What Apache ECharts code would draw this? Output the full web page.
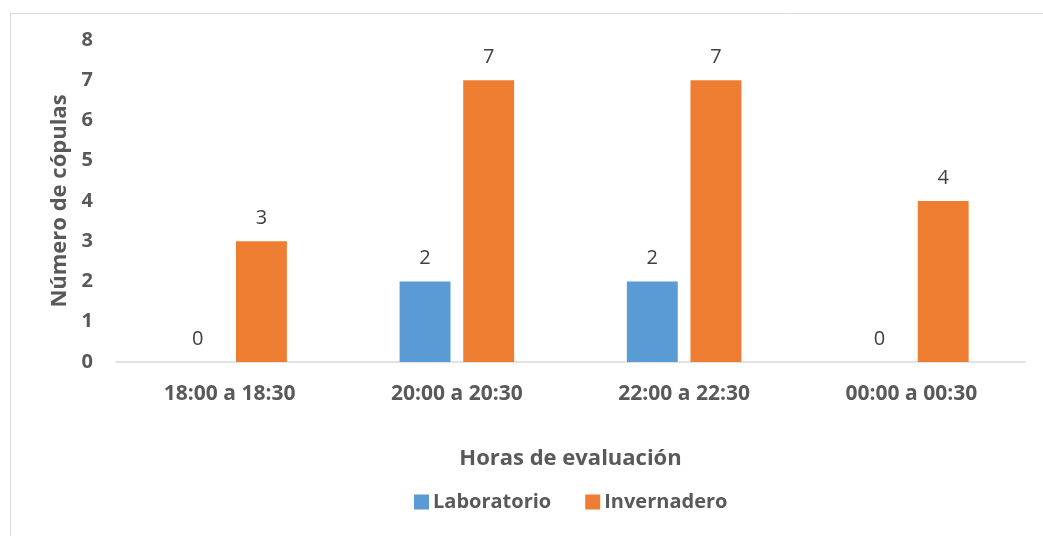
<!DOCTYPE html>
<html>
<head>
<meta charset="utf-8">
<script src="https://cdn.jsdelivr.net/npm/echarts@6/dist/echarts.min.js"></script>
<style>
  html, body { margin: 0; padding: 0; background: #ffffff; }
  #chart { width: 1043px; height: 536px; }
</style>
</head>
<body>
<div id="chart"></div>
<script>
// Mating counts per evaluation time window
const categories = ['18:00 a 18:30', '20:00 a 20:30', '22:00 a 22:30', '00:00 a 00:30'];
const laboratorio = [0, 2, 2, 0];
const invernadero = [3, 7, 7, 4];
const yTicks = [0, 1, 2, 3, 4, 5, 6, 7, 8];

const FONT = '"Open Sans", "Noto Sans", sans-serif';
const TEXT = '#595959';

const chart = echarts.init(document.getElementById('chart'), null, { renderer: 'canvas' });

const labelStyle = {
  show: true,
  position: 'top',
  distance: 13,
  color: '#404040',
  fontFamily: FONT,
  fontSize: 20,
  fontWeight: 'normal'
};

chart.setOption({
  animation: false,
  textStyle: { fontFamily: FONT },
  graphic: [{
    type: 'rect',
    left: 8, top: 11,
    shape: { width: 1100, height: 600 },
    style: { fill: 'none', stroke: '#D9D9D9', lineWidth: 1 },
    silent: true
  }],
  grid: { left: 116, right: 18, top: 40, bottom: 174, containLabel: false },
  legend: {
    data: ['Laboratorio', 'Invernadero'],
    left: 409,
    top: 487,
    itemWidth: 15,
    itemHeight: 15,
    itemGap: 34,
    icon: 'rect',
    textStyle: { color: TEXT, fontFamily: FONT, fontSize: 20, fontWeight: 'bold', padding: [0, 0, 0, -1] }
  },
  xAxis: {
    type: 'category',
    data: categories,
    name: 'Horas de evaluación',
    nameLocation: 'middle',
    nameGap: 86,
    nameTextStyle: { color: TEXT, fontFamily: FONT, fontSize: 22, fontWeight: 'bold' },
    axisLine: { show: true, lineStyle: { color: '#D9D9D9', width: 1.5 } },
    axisTick: { show: false },
    axisLabel: { color: TEXT, fontFamily: FONT, fontSize: 21, fontWeight: 'bold', margin: 22 },
    splitLine: { show: false }
  },
  yAxis: {
    type: 'value',
    min: yTicks[0],
    max: yTicks[yTicks.length - 1],
    interval: 1,
    name: 'Número de cópulas',
    nameLocation: 'middle',
    nameGap: 44,
    nameTextStyle: { color: TEXT, fontFamily: FONT, fontSize: 22, fontWeight: 'bold' },
    axisLine: { show: false },
    axisTick: { show: false },
    axisLabel: { color: TEXT, fontFamily: FONT, fontSize: 20, fontWeight: 'bold', margin: 23 },
    splitLine: { show: false }
  },
  series: [
    {
      name: 'Laboratorio',
      type: 'bar',
      data: laboratorio,
      barWidth: '22.4%',
      barGap: '25%',
      itemStyle: { color: '#5B9BD5' },
      label: labelStyle
    },
    {
      name: 'Invernadero',
      type: 'bar',
      data: invernadero,
      barWidth: '22.4%',
      barGap: '25%',
      itemStyle: { color: '#ED7D31' },
      label: labelStyle
    }
  ]
});
</script>
</body>
</html>
